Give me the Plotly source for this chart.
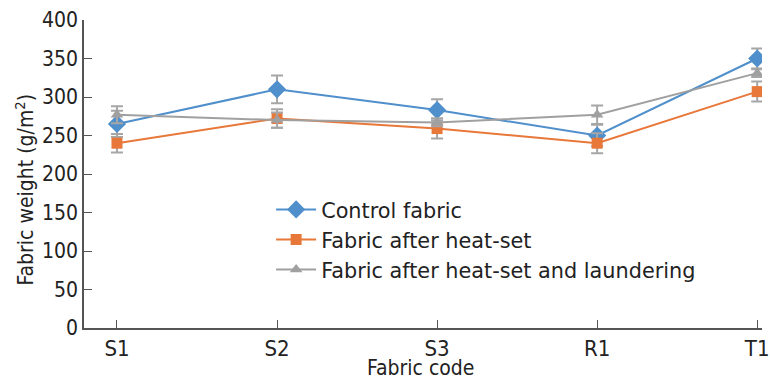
import plotly.graph_objects as go

categories = ["S1", "S2", "S3", "R1", "T1"]
control = [265, 310, 283, 250, 350]
control_err = [17, 18, 14, 14, 13]
heatset = [240, 272, 259, 240, 307]
heatset_err = [12, 12, 13, 13, 13]
laundered = [277, 270, 267, 277, 331]
laundered_err = [11, 10, 5, 12, 5]

xpos = list(range(len(categories)))
font_cond = "DejaVu Sans Condensed, Liberation Sans Narrow, sans-serif"
err_col = "#a6a6a6"

fig = go.Figure()
series = [
    ("Control fabric", control, control_err, "#4f8fcb", "diamond", 14),
    ("Fabric after heat-set", heatset, heatset_err, "#e8773a", "square", 11),
    ("Fabric after heat-set and laundering", laundered, laundered_err, "#a0a0a0", "triangle-up", 11),
]
for name, vals, errs, col, sym, sz in series:
    fig.add_trace(go.Scatter(
        x=xpos, y=vals, name=name, mode="lines+markers",
        line=dict(color=col, width=2),
        marker=dict(symbol=sym, size=sz, color=col),
        error_y=dict(type="data", array=errs, visible=True, color=err_col, thickness=2, width=6),
    ))

fig.update_layout(
    width=770, height=382,
    margin=dict(l=84, r=8, t=20, b=54),
    paper_bgcolor="white", plot_bgcolor="white",
    showlegend=True,
    legend=dict(x=0.276, y=0.45, xanchor="left", yanchor="top",
                font=dict(family="DejaVu Sans, sans-serif", size=20.8, color="#222"),
                bgcolor="rgba(0,0,0,0)", tracegroupgap=0, itemwidth=40),
    font=dict(family=font_cond, color="#222"),
    annotations=[
        dict(text="Fabric weight (g/m<sup>2</sup>)", textangle=-90,
             xref="paper", yref="paper", x=-0.087, y=0.45,
             xanchor="center", yanchor="middle", showarrow=False,
             font=dict(family=font_cond, size=21, color="#222")),
        dict(text="Fabric code",
             xref="paper", yref="paper", x=0.497, y=-0.130,
             xanchor="center", yanchor="middle", showarrow=False, borderpad=0,
             font=dict(family=font_cond, size=21, color="#222")),
    ],
)
fig.update_xaxes(
    range=[-0.206, 4.03], tickvals=xpos, ticktext=categories,
    showline=True, linecolor="#555", linewidth=1.5,
    ticks="inside", ticklen=8, tickcolor="#555", tickwidth=1.2,
    showgrid=False, zeroline=False, automargin=False,
    tickfont=dict(family=font_cond, size=22, color="#222"),
)
fig.update_yaxes(
    range=[0, 400], dtick=50,
    showline=True, linecolor="#555", linewidth=1.5,
    ticks="inside", ticklen=8, tickcolor="#555", tickwidth=1.2,
    showgrid=False, zeroline=False, automargin=False,
    tickfont=dict(family=font_cond, size=21, color="#222"),
)
fig.write_html("out.html")
